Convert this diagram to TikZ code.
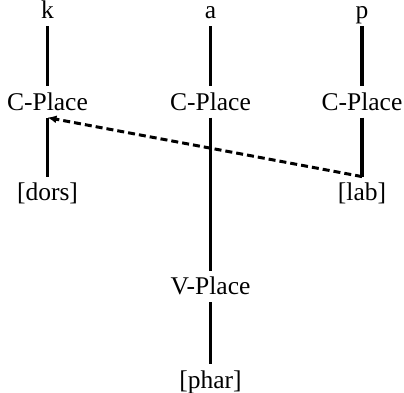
\documentclass[tikz,border=0pt]{standalone}
\usepackage{fontspec}
\setmainfont{Liberation Serif}
\usetikzlibrary{arrows.meta,positioning}

\begin{document}
\begin{tikzpicture}[
  x=1pt, y=1pt,
  seg/.style={font=\fontsize{25.5}{30}\selectfont, inner sep=0pt, text height=24pt, text depth=7pt},
  link/.style={line width=3.2pt},
  spread/.style={-{Latex[length=9pt,width=8pt]}, line width=3pt, dash pattern=on 7pt off 4pt}
]
\useasboundingbox (0,0) rectangle (404,-393);
% segments
\node[seg, anchor=base] (k) at (47.5,-19) {k};
\node[seg, anchor=base] (a) at (210.5,-19) {a};
\node[seg, anchor=base] (p) at (362,-19) {p};
% place nodes
\node[seg, below=60pt of k] (ck) {C-Place};
\node[seg, below=60pt of a] (ca) {C-Place};
\node[seg, below=60pt of p] (cp) {C-Place};
\node[seg, below=59pt of ck] (dors) {[dors]};
\node[seg, below=59pt of cp] (lab) {[lab]};
\node[seg, below=153pt of ca] (vp) {V-Place};
\node[seg, below=62pt of vp] (phar) {[phar]};
% association lines
\draw[link] (k) -- (ck);
\draw[link] (a) -- (ca);
\draw[link] (p) -- (cp);
\draw[link] (ck) -- (dors);
\draw[link] (cp) -- (lab);
\draw[link] (ca) -- (vp);
\draw[link] (vp) -- (phar);
% spreading of [lab]
\draw[spread] (lab.north) -- (ck.south);
\end{tikzpicture}
\end{document}
